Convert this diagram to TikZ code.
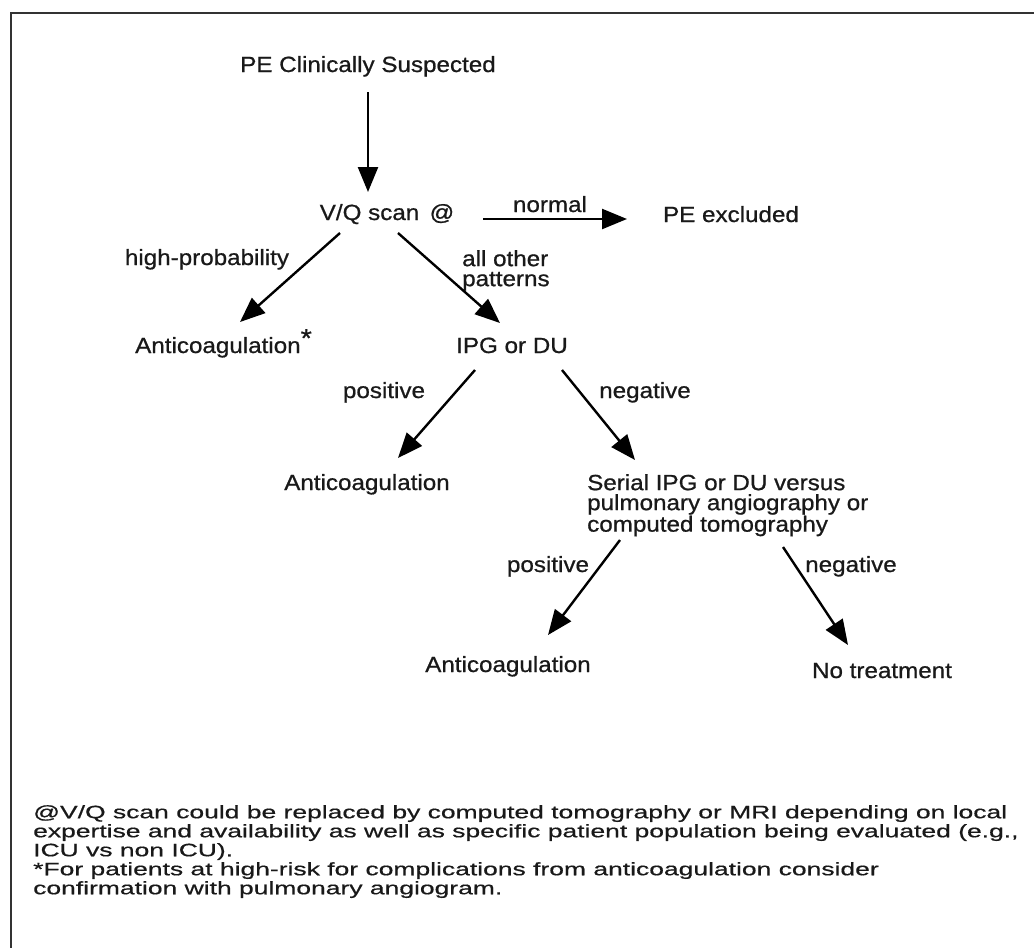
\documentclass[tikz,border=0pt]{standalone}
\usepackage{fontspec}
\setmainfont{Liberation Sans}[FakeStretch=1.1,FakeBold=0.8]
\newfontfamily\notefont{Liberation Sans}[FakeStretch=1.47,FakeBold=0.6]
\usetikzlibrary{calc,arrows.meta}

\tikzset{
  txt/.style={inner sep=0pt, anchor=base, text=black!90, font=\fontsize{22}{20}\selectfont},
  block/.style={txt, anchor=north west, align=left},
  note/.style={inner sep=0pt, anchor=north west, align=left, text=black!90, font=\notefont\fontsize{18}{19}\selectfont},
  arr/.style={line width=2.4pt, -{Triangle[length=25pt,width=20pt]}},
}

\begin{document}
\begin{tikzpicture}[x=1pt,y=-1pt]
  \useasboundingbox (0,0) rectangle (1034,948);
  % frame of the scan
  \draw[line width=2.6pt, black!80] (1034,13) -- (11,13) -- (11,948);

  % steps
  \node[txt] (pe) at (368,72) {PE Clinically Suspected};
  \node[txt] (vq) at (387,220) {V/Q scan \,@};
  \node[txt] (excl) at (731,222) {PE excluded};
  \node[txt, anchor=base west] (ac1) at (135,353) {Anticoagulation{\fontsize{26}{26}\selectfont\raisebox{6pt}{*}}};
  \node[txt] (ipg) at (512,353) {IPG or DU};
  \node[txt] (ac2) at (367,490) {Anticoagulation};
  \node[block] (serial) at (587,474) {Serial IPG or DU versus\\pulmonary angiography or\\computed tomography};
  \node[txt] (ac3) at (508,672) {Anticoagulation};
  \node[txt] (none) at (882,678) {No treatment};

  % edge labels
  \node[txt] (normal) at (550,212) {normal};
  \node[txt] (hiprob) at (207,265) {high-probability};
  \node[block] (other) at (462,250) {all other\\patterns};
  \node[txt] (pos1) at (384,398) {positive};
  \node[txt] (neg1) at (645,398) {negative};
  \node[txt] (pos2) at (548,572) {positive};
  \node[txt] (neg2) at (851,572) {negative};

  \draw[arr] ($ (pe.base) + (0,20) $) -- ($ (vq.base) + (-19,-28) $);
  \draw[arr] ($ (vq.base) + (96,-1) $) -- ($ (excl.base) + (-104,-3) $);
  \draw[arr] ($ (vq.base) + (-47,13) $) -- ($ (ac1.base west) + (105,-31) $);
  \draw[arr] ($ (vq.base) + (11,13) $) -- ($ (ipg.base) + (-12,-30) $);
  \draw[arr] ($ (ipg.base) + (-37,17) $) -- ($ (ac2.base) + (31,-32) $);
  \draw[arr] ($ (ipg.base) + (50,17) $) -- ($ (serial.north west) + (48,-14) $);
  \draw[arr] ($ (serial.north west) + (33,66) $) -- ($ (ac3.base) + (40,-37) $);
  \draw[arr] ($ (serial.north west) + (196,73) $) -- ($ (none.base) + (-34,-33) $);

  % footnotes
  \node[note] (fn) at (33,805) {@V/Q scan could be replaced by computed tomography or MRI depending on local\\
    expertise and availability as well as specific patient population being evaluated (e.g.,\\
    ICU vs non ICU).\\
    *For patients at high-risk for complications from anticoagulation consider\\
    confirmation with pulmonary angiogram.};
\end{tikzpicture}
\end{document}
